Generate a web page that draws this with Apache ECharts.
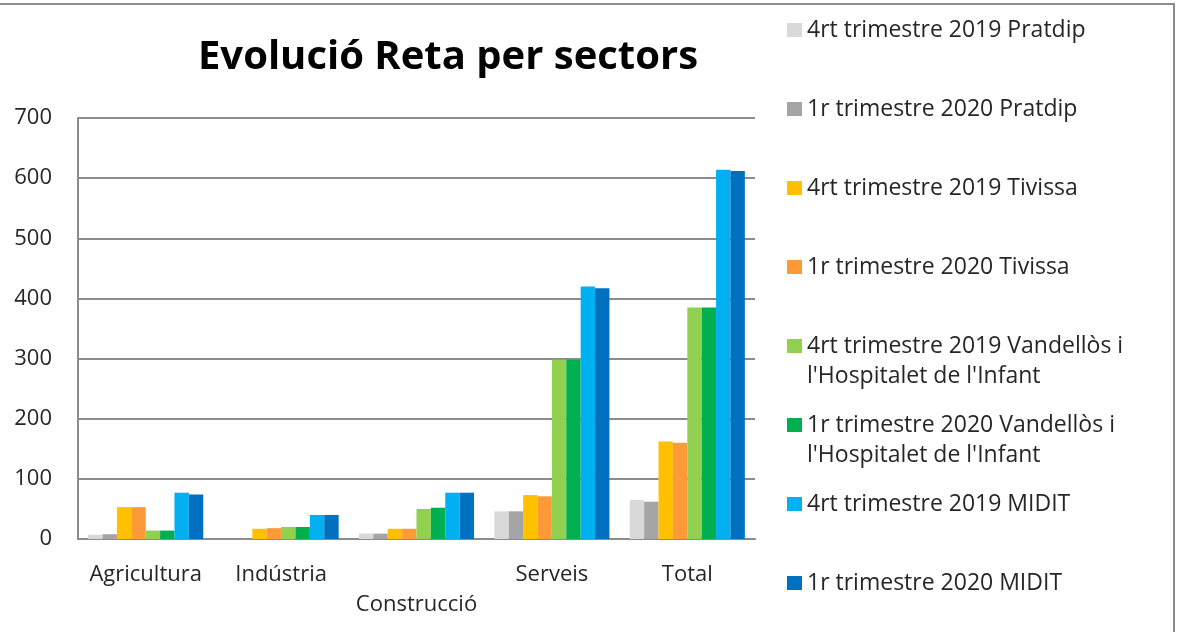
<!DOCTYPE html>
<html>
<head>
<meta charset="utf-8">
<script src="https://cdn.jsdelivr.net/npm/echarts@6/dist/echarts.min.js"></script>
<style>
html, body { margin: 0; padding: 0; background: #fff; }
#chart { width: 1180px; height: 632px; }
</style>
</head>
<body>
<div id="chart"></div>
<script>
var categories = ['Agricultura', 'Indústria', 'Construcció', 'Serveis', 'Total'];
var seriesNames = [
    '4rt trimestre 2019 Pratdip',
    '1r trimestre 2020 Pratdip',
    '4rt trimestre 2019 Tivissa',
    '1r trimestre 2020 Tivissa',
    "4rt trimestre 2019 Vandellòs i\nl'Hospitalet de l'Infant",
    "1r trimestre 2020 Vandellòs i\nl'Hospitalet de l'Infant",
    '4rt trimestre 2019 MIDIT',
    '1r trimestre 2020 MIDIT'
];
var pratdip2019 = [7, 0, 9, 46, 65];
var pratdip2020 = [8, 0, 9, 46, 62];
var tivissa2019 = [53, 17, 17, 73, 162];
var tivissa2020 = [53, 18, 17, 71, 160];
var vandellos2019 = [14, 20, 50, 298, 385];
var vandellos2020 = [14, 20, 52, 298, 385];
var midit2019 = [77, 40, 77, 420, 614];
var midit2020 = [74, 40, 77, 417, 612];
var yTicks = [0, 100, 200, 300, 400, 500, 600, 700];

var allValues = [pratdip2019, pratdip2020, tivissa2019, tivissa2020,
    vandellos2019, vandellos2020, midit2019, midit2020];
var colors = ['#d9d9d9', '#a5a5a5', '#ffc000', '#fd9a38',
    '#92d050', '#00b050', '#00b0f0', '#0070c0'];

var font = 'Open Sans';
var textColor = '#262626';

var chart = echarts.init(document.getElementById('chart'));

// one legend per item so every entry sits at its own row;
// two-line names get an empty first line so the square lines up with the first text line
var legends = seriesNames.map(function (name, i) {
    var twoLines = name.indexOf('\n') >= 0;
    return {
        data: [name],
        orient: 'vertical',
        left: 782,
        top: 10 + i * 79 - (twoLines ? 30 : 0),
        itemWidth: 15,
        itemHeight: 14,
        icon: 'rect',
        selectedMode: false,
        formatter: function (n) {
            return twoLines ? '\n' + n : n;
        },
        textStyle: {
            fontFamily: font,
            fontSize: 23,
            color: textColor,
            lineHeight: 30
        }
    };
});

var option = {
    animation: false,
    color: colors,
    title: {
        text: 'Evolució Reta per sectors',
        left: 443,
        textAlign: 'center',
        top: 33,
        textStyle: {
            fontFamily: font,
            fontWeight: 'bold',
            fontSize: 40,
            color: '#000'
        }
    },
    legend: legends,
    graphic: [{
        type: 'rect',
        shape: { x: -5, y: 4, width: 1179, height: 640 },
        style: { fill: null, stroke: '#8c8c8c', lineWidth: 2 },
        silent: true
    }],
    grid: {
        left: 78,
        right: 425,
        top: 118,
        bottom: 93
    },
    xAxis: {
        type: 'category',
        data: categories,
        axisLine: { lineStyle: { color: '#8c8c8c', width: 2 } },
        axisTick: { show: false },
        axisLabel: {
            interval: 0,
            margin: 21,
            fontFamily: font,
            fontSize: 22,
            color: textColor,
            lineHeight: 30,
            formatter: function (value, idx) {
                return idx === 2 ? '\n' + value : value;
            }
        }
    },
    yAxis: {
        type: 'value',
        min: yTicks[0],
        max: yTicks[yTicks.length - 1],
        interval: 100,
        axisLine: { show: true, lineStyle: { color: '#8c8c8c', width: 2 } },
        axisTick: { show: false },
        splitLine: { lineStyle: { color: '#8c8c8c', width: 2 } },
        axisLabel: {
            margin: 26,
            fontFamily: font,
            fontSize: 22,
            color: textColor
        }
    },
    series: seriesNames.map(function (name, i) {
        return {
            name: name,
            type: 'bar',
            data: allValues[i],
            barGap: '0%',
            barCategoryGap: '15%'
        };
    })
};

chart.setOption(option);
</script>
</body>
</html>
